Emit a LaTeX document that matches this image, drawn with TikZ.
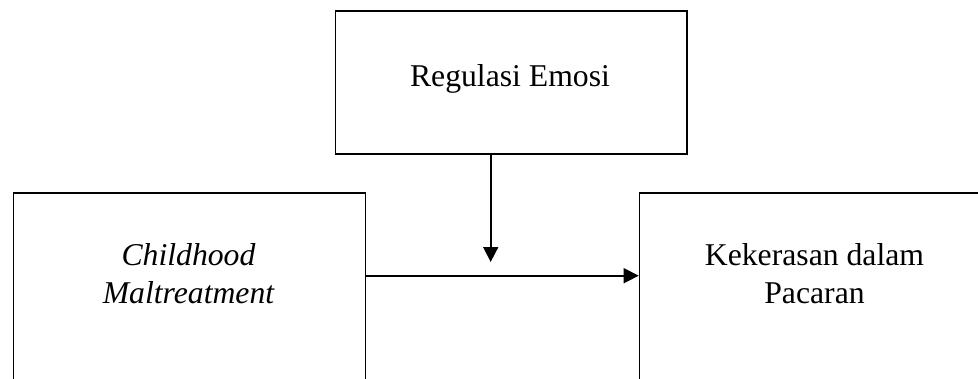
\documentclass[tikz,border=0pt]{standalone}
\usepackage{fontspec}
\setmainfont{Liberation Serif}
\usetikzlibrary{arrows.meta}
\begin{document}
\begin{tikzpicture}[x=1pt,y=1pt,
  box/.style={draw=black, line width=1.6pt, rectangle, inner sep=0pt, anchor=north west},
  lbl/.style={anchor=base, inner sep=0pt, font=\fontsize{31.7}{38}\selectfont},
  arr/.style={line width=1.6pt, -{Triangle[length=15pt,width=15pt]}}]
\clip (0,0) rectangle (978,-378);
\useasboundingbox (0,0) rectangle (978,-378);
\node[box, minimum width=351.5pt, minimum height=143pt] (re) at (334.5,-10) {};
\node[box, minimum width=352pt, minimum height=258pt] (cm) at (12.5,-192) {};
\node[box, minimum width=352pt, minimum height=258pt] (kp) at (638.7,-192) {};
\node[lbl] (t1) at (510,-86) {Regulasi Emosi};
\node[lbl] (t2) at (188.5,-265) {\itshape Childhood};
\node[lbl] (t3) at (188.5,-303) {\itshape Maltreatment};
\node[lbl] (t4) at (814.5,-265) {Kekerasan dalam};
\node[lbl] (t5) at (814.5,-303) {Pacaran};
\coordinate (hy) at (0,-275.7);
\coordinate (vt) at (490.7,-262);
\draw[arr] (cm.east |- hy) -- (kp.west |- hy);
\draw[arr] (re.south -| vt) -- (vt);
\end{tikzpicture}
\end{document}
